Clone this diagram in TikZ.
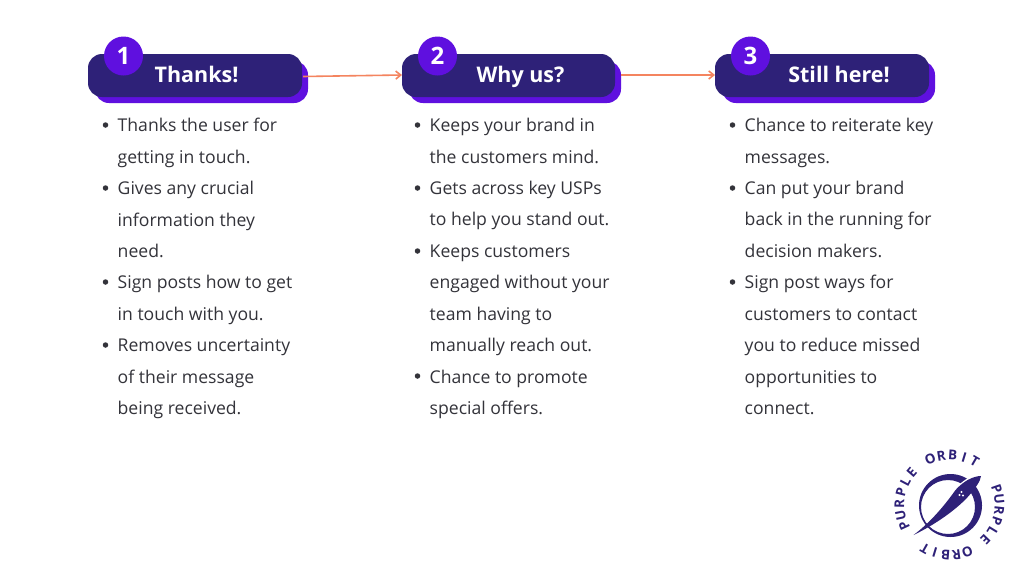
\documentclass[tikz,border=0pt]{standalone}
\usepackage{fontspec}
\setmainfont{Open Sans}
\usetikzlibrary{positioning,arrows.meta}
\definecolor{orbitdark}{HTML}{2E2178}
\definecolor{orbitpurple}{HTML}{5F10DF}
\definecolor{arrowsalmon}{HTML}{F4845F}
\definecolor{bodytext}{HTML}{33333A}
\tikzset{
  x=1pt, y=-1pt,
  backbar/.style={fill=orbitpurple, rounded corners=14pt},
  frontbar/.style={fill=orbitdark, rounded corners=14pt},
  numdot/.style={circle, fill=orbitpurple, minimum size=39pt, inner sep=0pt, text=white, font=\fontsize{24}{24}\selectfont\bfseries},
  bartitle/.style={anchor=base, text=white, font=\fontsize{21.5}{24}\selectfont\bfseries},
  linkarrow/.style={draw=arrowsalmon, line width=1.6pt, -{Straight Barb[length=5pt,width=8pt]}},
  blist/.style={anchor=north west, inner sep=0pt, text=bodytext, align=left, font=\fontsize{17.6}{31.45}\selectfont},
  bdot/.style={circle, fill=bodytext, minimum size=5.5pt, inner sep=0pt},
  logoletter/.style={text=orbitdark, inner sep=0pt, font=\fontsize{13.5}{14}\selectfont\bfseries},
}
\begin{document}
\begin{tikzpicture}
  \useasboundingbox (0,0) rectangle (1024,576);
  \fill[white] (0,0) rectangle (1024,576);
  % header bars
  \foreach \nm/\xa/\xb/\num/\ttl/\tx in {one/88/302/1/Thanks!/196.5, two/402/615/2/Why us?/520.5, three/715/929/3/Still here!/839} {
    \fill[backbar] (\xa+7,61) rectangle (\xb+6,103);
    \fill[frontbar] (\xa,54) rectangle (\xb,97);
    \node[bartitle] (title\nm) at (\tx,82.5) {\ttl};
    \node[numdot] (dot\nm) at (\xa+35.5,56) {\num};
    \coordinate (in\nm) at (\xa,75);
  }
  \coordinate (outone) at (303,76.5);
  \coordinate (outtwo) at (621,75);
  \draw[linkarrow] (outone) -- (intwo);
  \draw[linkarrow] (outtwo) -- (inthree);
  % first column
  \node[blist] (listone) at (117.5,118) {Thanks the user for\\getting in touch.\\Gives any crucial\\information they\\need.\\Sign posts how to get\\in touch with you.\\Removes uncertainty\\of their message\\being received.};
  \foreach \yy in {125,188,282,345} \node[bdot] at (105.5,\yy) {};
  % second column
  \node[blist] (listtwo) at (429.5,118) {Keeps your brand in\\the customers mind.\\Gets across key USPs\\to help you stand out.\\Keeps customers\\engaged without your\\team having to\\manually reach out.\\Chance to promote\\special offers.};
  \foreach \yy in {125,188,251,376} \node[bdot] at (417.5,\yy) {};
  % third column
  \node[blist] (listthree) at (744.5,118) {Chance to reiterate key\\messages.\\Can put your brand\\back in the running for\\decision makers.\\Sign post ways for\\customers to contact\\you to reduce missed\\opportunities to\\connect.};
  \foreach \yy in {125,188,282} \node[bdot] at (732.5,\yy) {};
  % logo
  \begin{scope}[shift={(949.5,505)}]
    \foreach \ch [count=\i] in {P,U,R,P,L,E,{},O,R,B,I,T} {
      \node[logoletter, rotate={205-(\i-1)*13.2-90}] at ({50*cos(205-(\i-1)*13.2)},{-50*sin(205-(\i-1)*13.2)}) {\ch};
      \node[logoletter, rotate={19-(\i-1)*12.6-90}] at ({50*cos(19-(\i-1)*12.6)},{-50*sin(19-(\i-1)*12.6)}) {\ch};
    }
    \fill[orbitdark, even odd rule] (1,0.5) circle (31.5) (-1.5,2) circle (27);
    \draw[white, line width=1.6pt] (4,-13) .. controls (12,-23) and (22,-30) .. (33,-31);
    \fill[orbitdark] (-36,30) .. controls (-15,20) and (8,4) .. (20,-10) .. controls (26,-17) and (31,-24) .. (31.5,-29) .. controls (24,-29) and (14,-24) .. (6,-15) .. controls (-6,2) and (-20,18) .. (-36,30) -- cycle;
    \fill[white] (10,-10) circle (1.1) (13.5,-9.5) circle (1.1) (12,-13) circle (1.1);
  \end{scope}
\end{tikzpicture}
\end{document}
